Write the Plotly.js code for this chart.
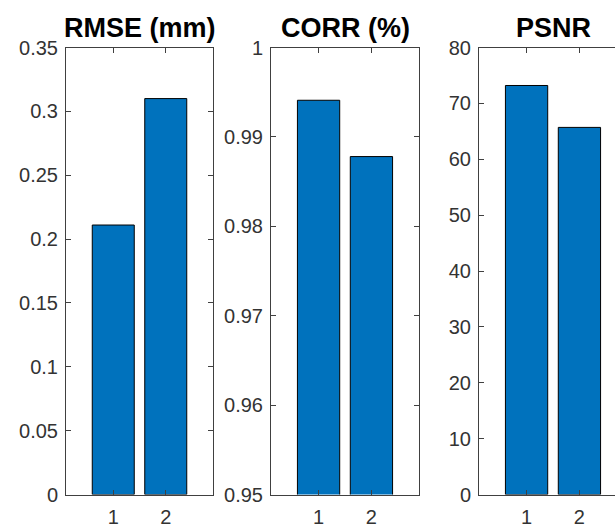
<!DOCTYPE html>
<html>
<head>
<meta charset="utf-8">
<script src="https://cdn.plot.ly/plotly-3.0.1.min.js"></script>
<style>
html, body { margin:0; padding:0; overflow:hidden; background:#fff; width:615px; height:530px; }
#chart { width:640px; height:530px; }
</style>
</head>
<body>
<div id="chart"></div>
<script>
// ---- data ----
const categories = [1, 2];
const rmseValues = [0.211, 0.310];
const corrValues = [0.9941, 0.9878];
const psnrValues = [73.2, 65.7];
const titles = ['RMSE (mm)', 'CORR (%)', 'PSNR'];
const rmseTicks = [0, 0.05, 0.1, 0.15, 0.2, 0.25, 0.3, 0.35];
const rmseTickText = ['0', '0.05', '0.1', '0.15', '0.2', '0.25', '0.3', '0.35'];
const corrTicks = [0.95, 0.96, 0.97, 0.98, 0.99, 1];
const corrTickText = ['0.95', '0.96', '0.97', '0.98', '0.99', '1'];
const psnrTicks = [0, 10, 20, 30, 40, 50, 60, 70, 80];
const psnrTickText = ['0', '10', '20', '30', '40', '50', '60', '70', '80'];
const xTickText = ['1', '2'];

// ---- styling ----
const W = 640, H = 530;
const barColor = '#0072BD';
const axisColor = '#404040';
const textColor = '#333333';
const fontFam = '"Liberation Sans", Arial, Helvetica, sans-serif';

const xDom = [[66 / W, 213 / W], [271 / W, 419 / W], [479 / W, 627 / W]];
const yDom = [(H - 494.5) / H, (H - 47.5) / H];

function bar(vals, xa, ya) {
  return {
    type: 'bar', x: categories, y: vals, xaxis: xa, yaxis: ya,
    width: 0.8,
    marker: { color: barColor, line: { color: '#000', width: 1 } },
    hoverinfo: 'none'
  };
}

const data = [
  bar(rmseValues, 'x', 'y'),
  bar(corrValues, 'x2', 'y2'),
  bar(psnrValues, 'x3', 'y3')
];

function xax(i, anchor) {
  return {
    domain: xDom[i], anchor: anchor, range: [0.1, 2.9],
    tickmode: 'array', tickvals: categories, ticktext: xTickText,
    ticks: 'inside', ticklen: 5, tickwidth: 1, tickcolor: axisColor,
    ticklabelstandoff: 4,
    showline: true, linecolor: axisColor, linewidth: 1, mirror: 'ticks',
    showgrid: false, zeroline: false,
    tickfont: { family: fontFam, size: 20, color: textColor }
  };
}
function yax(i, anchor, range, tv, tt) {
  return {
    domain: yDom, anchor: anchor, range: range,
    tickmode: 'array', tickvals: tv, ticktext: tt,
    ticks: 'inside', ticklen: 5, tickwidth: 1, tickcolor: axisColor,
    ticklabelstandoff: 3,
    showline: true, linecolor: axisColor, linewidth: 1, mirror: 'ticks',
    showgrid: false, zeroline: false,
    tickfont: { family: fontFam, size: 20, color: textColor }
  };
}

const annotations = titles.map((t, i) => ({
  text: '<b>' + t + '</b>', xref: 'paper', yref: 'paper',
  x: (xDom[i][0] + xDom[i][1]) / 2, y: (H - 28) / H,
  xanchor: 'center', yanchor: 'middle', showarrow: false,
  font: { family: fontFam, size: 27, color: '#000' }
}));

const layout = {
  width: W, height: H,
  margin: { l: 0, r: 0, t: 0, b: 0 },
  paper_bgcolor: '#fff', plot_bgcolor: '#fff',
  showlegend: false, bargap: 0,
  xaxis: xax(0, 'y'), yaxis: yax(0, 'x', [0, 0.35], rmseTicks, rmseTickText),
  xaxis2: xax(1, 'y2'), yaxis2: yax(1, 'x2', [0.95, 1], corrTicks, corrTickText),
  xaxis3: xax(2, 'y3'), yaxis3: yax(2, 'x3', [0, 80], psnrTicks, psnrTickText),
  annotations: annotations
};

Plotly.newPlot('chart', data, layout, { displayModeBar: false, staticPlot: true });
</script>
</body>
</html>
